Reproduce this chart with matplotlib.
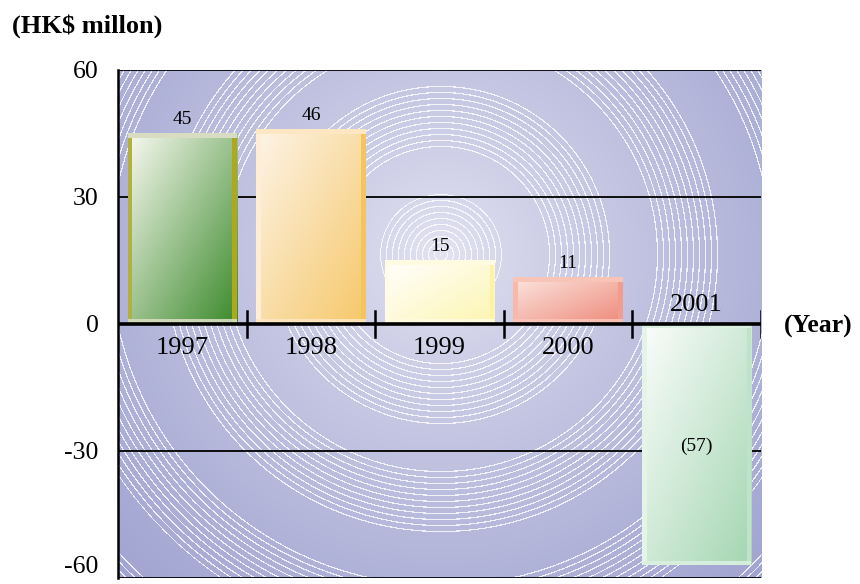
import numpy as np
import matplotlib
matplotlib.use("Agg")
import matplotlib.pyplot as plt
from matplotlib.colors import to_rgb
from matplotlib.patches import Rectangle

years = ["1997", "1998", "1999", "2000", "2001"]
values = [45, 46, 15, 11, -57]
value_labels = ["45", "46", "15", "11", "(57)"]
yticks = [-60, -30, 0, 30, 60]

# face gradient (top-left colour, bottom-right colour) and bevel colours per bar
face_start = ["#f8f9f0", "#fdf4e8", "#ffffff", "#fbe6e0", "#fbfdfb"]
face_end = ["#3c8a2c", "#f6c86a", "#fdf5b0", "#ee8a7a", "#a4d6b2"]
bevel_side = ["#b0a81c", "#f5c45c", "#fdf3a6", "#f19c8c", "#bfe3c8"]
bevel_left = ["#b4b040", "#feeed4", "#fffbe6", "#f8b8aa", "#e4f4e8"]
bevel_top = ["#d8dcc0", "#fde6c2", "#fffbe0", "#f9c4b8", "#daf0e0"]

plt.rcParams['font.family'] = ['Liberation Serif', 'DejaVu Serif']

fig = plt.figure(figsize=(8.6, 5.84), dpi=100)
ax = fig.add_axes([0.1372, 0.0103, 0.7477, 0.8699])
ax.set_xlim(-0.5, 4.5)
ax.set_ylim(-60, 60)

# background: radial gradient with concentric white rings
W, H = 643, 508
px, py = np.meshgrid(np.arange(W), np.arange(H))
cx, cy = 322, 185
r = np.hypot(px - cx, py - cy)
t = np.clip(r / 480.0, 0, 1) ** 0.8
c_in = np.array(to_rgb("#e4e4f2"))
c_out = np.array(to_rgb("#9da1cf"))
img = c_in * (1 - t[..., None]) + c_out * t[..., None]
rings = (np.cos(2 * np.pi * r / 6.0) > 0.8) & (np.sin(2 * np.pi * r / 110.0) > -0.3)
rings = rings.astype(float) * 0.8
img = img * (1 - rings[..., None]) + rings[..., None]
ax.imshow(img, extent=(-0.5, 4.5, -60, 60), origin='upper', aspect='auto',
          zorder=0, interpolation='nearest')

# grid lines
for y in [-60, -30, 30, 60]:
    ax.axhline(y, color='black', lw=1.3, zorder=1)
ax.axhline(0, color='black', lw=2.6, zorder=4)
for xb in [0.5, 1.5, 2.5, 3.5, 4.5]:
    ax.plot([xb, xb], [-3.0, 3.0], color='black', lw=1.8, zorder=4)

# bars
width = 0.85
bars = ax.bar(range(len(values)), values, width=width, color='none', zorder=2)
ddx = 4.5 / 128.6
ddy = 4.5 / 4.233
for i, (b, v) in enumerate(zip(bars, values)):
    x0 = b.get_x()
    x1 = x0 + width
    y0, y1 = min(0, v), max(0, v)
    u, w = np.meshgrid(np.linspace(0, 1, 60), np.linspace(0, 1, 60))
    g = np.clip((u + w) / 2.0, 0, 1)
    a = np.array(to_rgb(face_start[i]))
    e = np.array(to_rgb(face_end[i]))
    grad = a * (1 - g[..., None]) + e * g[..., None]
    im = ax.imshow(grad, extent=(x0, x1, y0, y1), origin='upper',
                   aspect='auto', zorder=2, interpolation='bilinear')
    im.set_clip_path(b)
    # bevel strips
    ax.add_patch(Rectangle((x1 - ddx, y0), ddx, y1 - y0,
                           color=bevel_side[i], zorder=3, lw=0))
    ax.add_patch(Rectangle((x0, y0), ddx, y1 - y0,
                           color=bevel_left[i], zorder=3, lw=0))
    ax.add_patch(Rectangle((x0, y1 - ddy), width, ddy,
                           color=bevel_top[i], zorder=3, lw=0))
    ax.add_patch(Rectangle((x0, y0), width, ddy,
                           color=bevel_top[i], zorder=3, lw=0, alpha=0.9))

    # labels
    if v >= 0:
        ax.text(i, v + 1.3, value_labels[i], ha='center', va='bottom',
                fontsize=14, zorder=5)
        ax.text(i, -3.1, years[i], ha='center', va='top', fontsize=19,
                zorder=5)
    else:
        ax.text(i, v / 2 - 0.5, value_labels[i], ha='center', va='center',
                fontsize=14, zorder=5)
        ax.text(i, 1.8, years[i], ha='center', va='bottom', fontsize=19,
                zorder=5)

# frame
for s in ['top', 'right', 'bottom']:
    ax.spines[s].set_visible(False)
ax.spines['left'].set_linewidth(1.8)
ax.set_xticks([])
ax.set_yticks(yticks)
ax.set_yticklabels([str(y) for y in yticks], fontsize=18.5)
ax.tick_params(axis='y', length=0, pad=14)
ax.get_yticklabels()[0].set_va('bottom')

fig.text(0.014, 0.955, "(HK$ millon)", fontsize=19, fontweight='bold',
         ha='left', va='center')
fig.text(0.912, 0.441, "(Year)", fontsize=18.5, fontweight='bold',
         ha='left', va='center')

fig.savefig("out.png", dpi=100)
